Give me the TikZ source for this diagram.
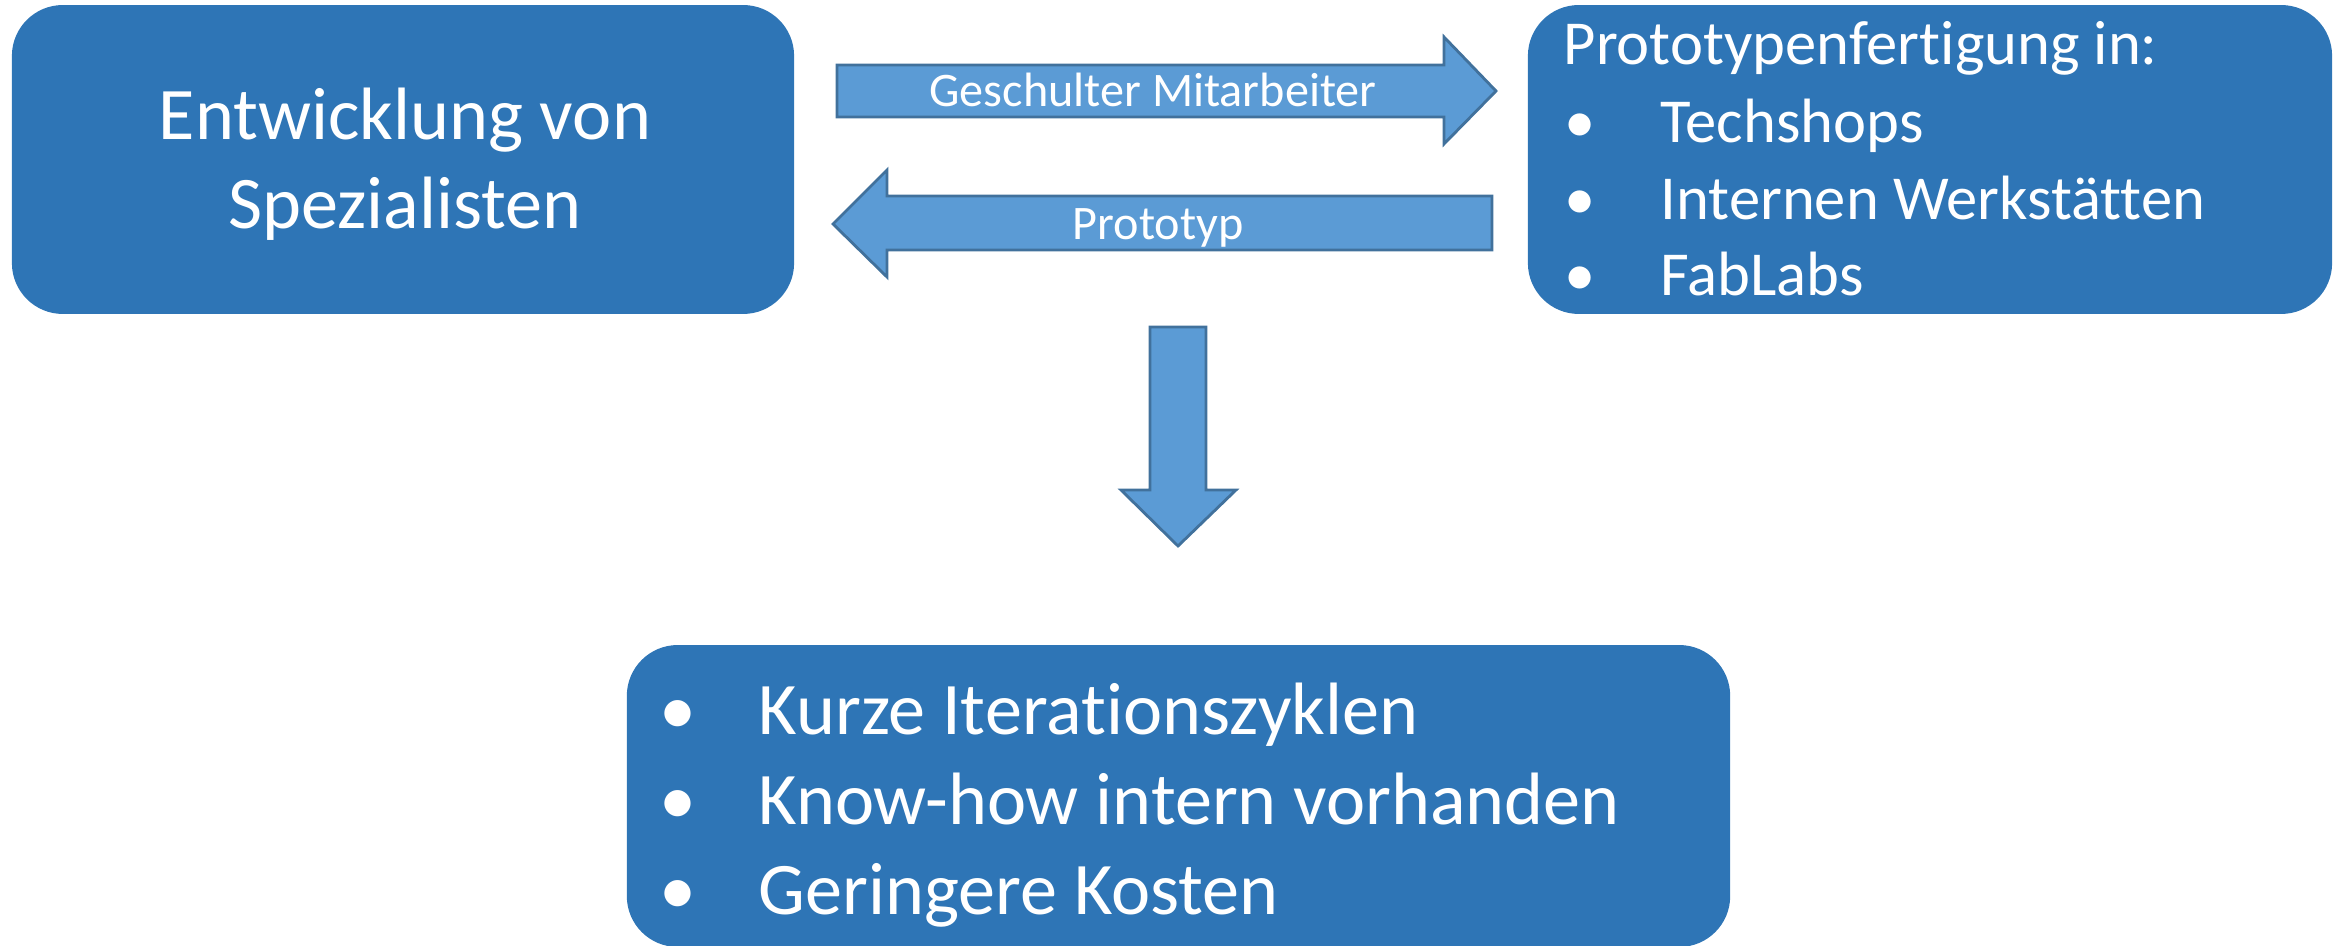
\documentclass[tikz,border=0pt]{standalone}
\usepackage{fontspec}
\setmainfont{Carlito}[Ligatures={NoCommon}]
\definecolor{boxblue}{HTML}{2E75B6}
\definecolor{arrowfill}{HTML}{5B9BD5}
\definecolor{arrowline}{HTML}{41719C}
\begin{document}
\begin{tikzpicture}[x=0.01cm,y=-0.01cm,
  panel/.style={fill=boxblue, draw=boxblue, line width=0.5pt, rounded corners=0.5cm, inner sep=0pt},
  blockarrow/.style={fill=arrowfill, draw=arrowline, line width=0.8pt, line join=miter},
  bigtext/.style={text=white, inner sep=0pt, font=\fontsize{21.1pt}{25pt}\selectfont},
  midtext/.style={text=white, inner sep=0pt, font=\fontsize{17.8pt}{21pt}\selectfont},
  smalltext/.style={text=white, inner sep=0pt, font=\fontsize{13.7pt}{16pt}\selectfont}]
\useasboundingbox (0,0) rectangle (2341,946);
% boxes
\node[panel, minimum width=7.80cm, minimum height=3.07cm] (spec) at (403,159.5) {};
\node[panel, minimum width=8.02cm, minimum height=3.07cm] (proto) at (1930,159.5) {};
\node[panel, minimum width=11.01cm, minimum height=3.00cm] (result) at (1178.5,796) {};
% left box text
\node[bigtext, anchor=base] (spec1) at (405,140) {Entwicklung von};
\node[bigtext, anchor=base] (spec2) at (405,229) {Spezialisten};
% right box text
\node[midtext, anchor=base west] (p0) at (1563,65) {Prototypenfertigung in:};
\node[midtext, anchor=base west] (b1) at (1564,143) {•};
\node[midtext, anchor=base west] (p1) at (1660,143) {Techshops};
\node[midtext, anchor=base west] (b2) at (1564,220) {•};
\node[midtext, anchor=base west] (p2) at (1660,220) {Internen Werkstätten};
\node[midtext, anchor=base west] (b3) at (1564,296) {•};
\node[midtext, anchor=base west] (p3) at (1660,296) {FabLabs};
% bottom box text
\node[bigtext, anchor=base west] (c1) at (659,735) {•};
\node[bigtext, anchor=base west] (r1) at (758,735) {Kurze Iterationszyklen};
\node[bigtext, anchor=base west] (c2) at (659,825) {•};
\node[bigtext, anchor=base west] (r2) at (758,825) {Know-how intern vorhanden};
\node[bigtext, anchor=base west] (c3) at (659,915) {•};
\node[bigtext, anchor=base west] (r3) at (758,915) {Geringere Kosten};
% arrows
\draw[blockarrow] (837,65) -- (1444,65) -- (1444,37) -- (1496,91) -- (1444,144) -- (1444,117) -- (837,117) -- cycle;
\draw[blockarrow] (1492,196) -- (887,196) -- (887,170) -- (833,224) -- (887,277) -- (887,250) -- (1492,250) -- cycle;
\draw[blockarrow] (1150,327) -- (1206,327) -- (1206,490) -- (1236,490) -- (1178,546) -- (1121,490) -- (1150,490) -- cycle;
% arrow labels
\node[smalltext, anchor=base] (lab1) at (1153,107) {Geschulter Mitarbeiter};
\node[smalltext, anchor=base] (lab2) at (1158,240) {Prototyp};
\end{tikzpicture}
\end{document}
